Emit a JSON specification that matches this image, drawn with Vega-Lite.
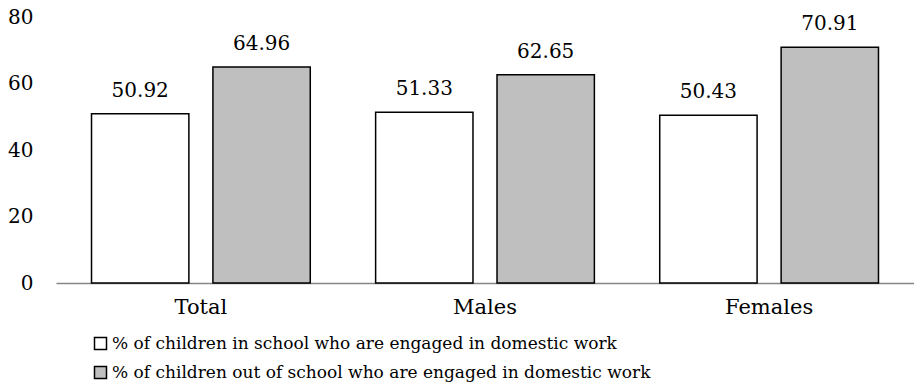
{
  "$schema": "https://vega.github.io/schema/vega-lite/v6.json",
  "autosize": {"type": "none"},
  "width": 858,
  "height": 266,
  "padding": {"left": 56, "top": 17, "right": 0, "bottom": 107},
  "background": "white",
  "config": {
    "font": "DejaVu Serif",
    "axis": {"labelFont": "DejaVu Serif"},
    "legend": {"labelFont": "DejaVu Serif"},
    "text": {"font": "DejaVu Serif"},
    "view": {"stroke": null}
  },
  "data": {
    "values": [
      {"group": "Total", "series": "% of children in school who are engaged in domestic work", "value": 50.92},
      {"group": "Total", "series": "% of children out of school who are engaged in domestic work", "value": 64.96},
      {"group": "Males", "series": "% of children in school who are engaged in domestic work", "value": 51.33},
      {"group": "Males", "series": "% of children out of school who are engaged in domestic work", "value": 62.65},
      {"group": "Females", "series": "% of children in school who are engaged in domestic work", "value": 50.43},
      {"group": "Females", "series": "% of children out of school who are engaged in domestic work", "value": 70.91}
    ]
  },
  "encoding": {
    "x": {
      "field": "group", "type": "nominal", "sort": ["Total", "Males", "Females"],
      "scale": {"paddingInner": 0.23, "paddingOuter": 0.125},
      "axis": {
        "title": null, "labelAngle": 0, "labelFontSize": 21, "labelFont": "DejaVu Serif", "labelColor": "black",
        "labelPadding": 13, "ticks": false, "domainColor": "#868686", "domainWidth": 1.5
      }
    },
    "xOffset": {
      "field": "series", "type": "nominal",
      "scale": {"paddingInner": 0.198, "paddingOuter": 0}
    },
    "y": {
      "field": "value", "type": "quantitative",
      "scale": {"domain": [0, 80]},
      "axis": {
        "title": null, "values": [0, 20, 40, 60, 80], "grid": false, "domain": false,
        "ticks": false, "labelFontSize": 20, "labelFont": "DejaVu Serif", "labelColor": "black", "labelPadding": 23
      }
    }
  },
  "layer": [
    {
      "mark": {"type": "bar", "stroke": "black", "strokeWidth": 1.5},
      "encoding": {
        "fill": {
          "field": "series", "type": "nominal",
          "scale": {"range": ["white", "#bfbfbf"]},
          "legend": {
            "title": null, "orient": "none", "legendX": 36, "legendY": 318,
            "direction": "vertical", "symbolType": "square", "symbolSize": 144,
            "symbolStrokeColor": "black", "symbolStrokeWidth": 1.5,
            "labelFontSize": 17, "labelFont": "DejaVu Serif", "labelColor": "black", "labelOffset": 3,
            "rowPadding": 10, "labelLimit": 800
          }
        }
      }
    },
    {
      "mark": {"type": "text", "font": "DejaVu Serif", "fontSize": 20, "color": "black", "baseline": "alphabetic", "dy": -17},
      "encoding": {
        "text": {"field": "value", "type": "quantitative", "format": ".2f"}
      }
    }
  ]
}
